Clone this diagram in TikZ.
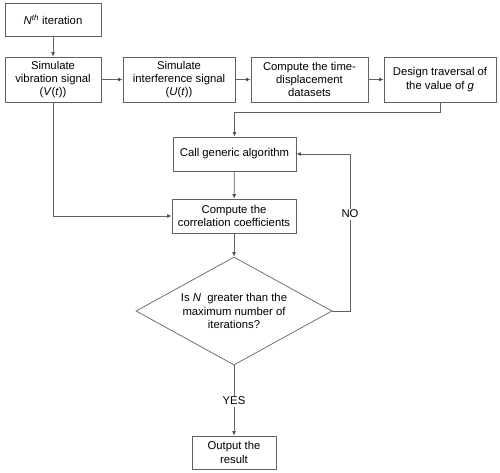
\documentclass[tikz,border=0pt]{standalone}
\usepackage{fontspec}
\setmainfont{Liberation Sans}
\usetikzlibrary{shapes.geometric,arrows.meta}
\begin{document}
\begin{tikzpicture}[x=1pt,y=-1pt,
  every node/.style={font=\fontsize{11.3}{13.3}\selectfont, text=black},
  box/.style={draw=black!62, line width=0.7pt, align=center, inner sep=0pt},
  conn/.style={draw=black!62, line width=0.7pt, -{Latex[length=4.5pt,width=4pt,fill=black]}},
  line/.style={draw=black!62, line width=0.7pt},
  lbl/.style={fill=white, inner sep=1.5pt}]
\useasboundingbox (0,0) rectangle (500,473);
\node[box, minimum width=96pt, minimum height=33pt] (nth) at (53,19.5) {\textit{N}\textsuperscript{\textit{th}} iteration};
\node[box, minimum width=96pt, minimum height=45pt] (vib) at (53,79.5) {Simulate\\vibration signal\\(\textit{V}(\textit{t}))};
\node[box, minimum width=112pt, minimum height=45pt] (intf) at (179,79.5) {Simulate\\interference signal\\(\textit{U}(\textit{t}))};
\node[box, minimum width=117pt, minimum height=45pt] (tdisp) at (309.5,79.5) {Compute the time-\\displacement\\datasets};
\node[box, minimum width=112pt, minimum height=45pt] (trav) at (440,79.5) {Design traversal of\\the value of \textit{g}};
\node[box, minimum width=123pt, minimum height=34pt] (call) at (234.5,154) {Call generic algorithm};
\node[box, minimum width=124pt, minimum height=34pt] (corr) at (234,216) {Compute the\\correlation coefficients};
\node[draw=black!62, line width=0.7pt, diamond, minimum width=196pt, minimum height=108pt, inner sep=0pt] (dia) at (234,311) {};
\node[align=center, inner sep=0pt] (diatext) at (dia.center) {Is \textit{N}\ \ greater than the\\maximum number of\\iterations?};
\node[box, minimum width=84pt, minimum height=33pt] (out) at (234,452.5) {Output the\\result};
\coordinate (c1) at (440,112);
\coordinate (c2) at (234.5,112);
\coordinate (c3) at (53,216);
\coordinate (c4) at (350,311);
\coordinate (c5) at (350,154);
\draw[conn] (nth) -- (vib);
\draw[conn] (vib) -- (intf);
\draw[conn] (intf) -- (tdisp);
\draw[conn] (tdisp) -- (trav);
\draw[conn] (trav.south) -- (c1) -- (c2) -- (call.north);
\draw[conn] (call) -- (corr);
\draw[conn] (vib.south) -- (c3) -- (corr.west);
\draw[conn] (corr.south) -- (dia.north);
\draw[conn] (dia.east) -- (c4) -- (c5) -- (call.east);
\node[lbl] (no) at (350,214) {NO};
\draw[conn] (dia.south) -- (out.north);
\node[lbl] (yes) at (234,401) {YES};
\end{tikzpicture}
\end{document}
